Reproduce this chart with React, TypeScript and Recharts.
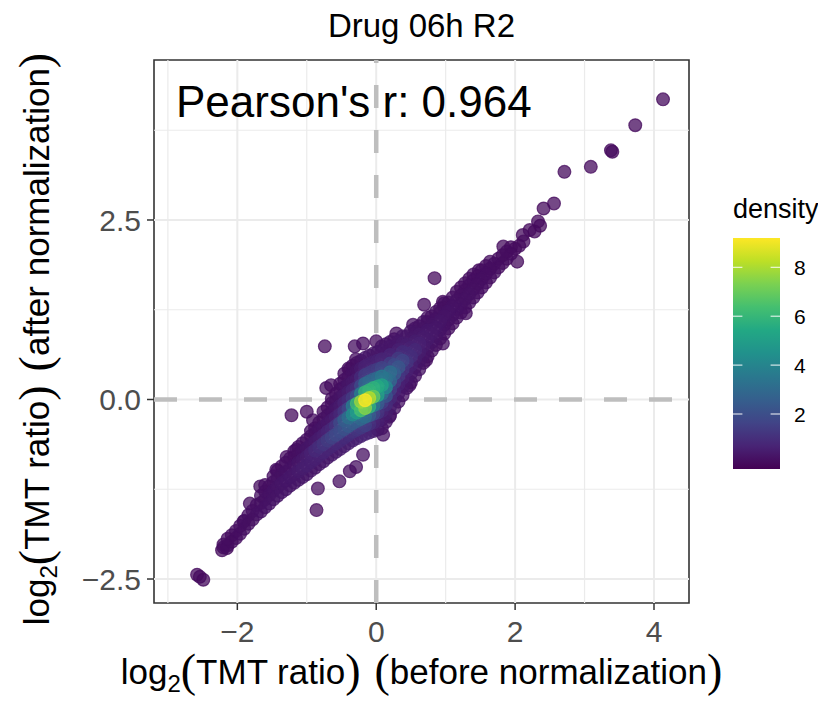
import React from "react";
import {
  ScatterChart,
  Scatter,
  XAxis,
  YAxis,
  ReferenceLine,
  ReferenceArea,
} from "recharts";

const FONT = "'Liberation Sans', Arial, Helvetica, sans-serif";
const PAREN_FONT = "'Liberation Serif', 'Times New Roman', serif";

// axes (log2 TMT ratio)
const xDomain = [-3.2, 4.504];
const yDomain = [-2.834, 4.728];
const xTicks = [-2, 0, 2, 4];
const yTicks = [-2.5, 0, 2.5];
const xMinor = [-3, -1, 1, 3];
const yMinor = [-1.25, 1.25, 3.75];

// colour bar
const densityTicks = [2, 4, 6, 8];
const densityLimits = [-0.25, 9.2];
const viridisStops = [
  "#440154", "#482475", "#414487", "#355f8d", "#2a788e", "#21918c",
  "#22a884", "#44bf70", "#7ad151", "#bddf26", "#fde725",
];

// [before normalization, after normalization, density]
const lowerTail = [
  [-2.2, -2.06, 0.08], [-2.2, -2.02, 0.07],
  [-2.08, -1.98, 0.09], [-2.08, -1.89, 0.09],
  [-1.96, -1.87, 0.11], [-1.96, -1.76, 0.11],
  [-1.84, -1.73, 0.15], [-1.84, -1.61, 0.12],
  [-1.72, -1.6, 0.18], [-1.72, -1.47, 0.13],
  [-1.6, -1.5, 0.21], [-1.6, -1.39, 0.19], [-1.6, -1.28, 0.13],
  [-1.48, -1.39, 0.25], [-1.48, -1.27, 0.23], [-1.48, -1.15, 0.15], [-1.48, -1.07, 0.11],
  [-1.36, -1.29, 0.28], [-1.36, -1.17, 0.28], [-1.36, -1.05, 0.18], [-1.36, -0.93, 0.11],
];

const lowerTailFill = [
  [-2.14, -2.03, 0.08], [-2.14, -1.94, 0.09],
  [-2.02, -1.93, 0.1], [-2.02, -1.83, 0.1],
  [-1.9, -1.8, 0.13], [-1.9, -1.69, 0.12],
  [-1.78, -1.67, 0.16], [-1.78, -1.55, 0.13],
  [-1.66, -1.56, 0.2], [-1.66, -1.44, 0.16], [-1.66, -1.34, 0.12],
  [-1.54, -1.45, 0.23], [-1.54, -1.33, 0.21], [-1.54, -1.21, 0.14],
  [-1.42, -1.34, 0.27], [-1.42, -1.22, 0.26], [-1.42, -1.1, 0.17], [-1.42, -0.99, 0.11],
  [-1.3, -1.25, 0.29], [-1.3, -1.13, 0.31], [-1.3, -1.01, 0.2], [-1.3, -0.88, 0.12],
];

const lowerBody = [
  [-1.24, -1.2, 0.25], [-1.24, -1.08, 0.34], [-1.24, -0.96, 0.2], [-1.24, -0.82, 0.1],
  [-1.12, -1.12, 0.28], [-1.12, -1.0, 0.45], [-1.12, -0.88, 0.28], [-1.12, -0.76, 0.15], [-1.12, -0.66, 0.1],
  [-1.0, -1.04, 0.28], [-1.0, -0.92, 0.55], [-1.0, -0.8, 0.5], [-1.0, -0.68, 0.28], [-1.0, -0.56, 0.15],
  [-0.88, -0.95, 0.3], [-0.88, -0.83, 0.6], [-0.88, -0.71, 0.85], [-0.88, -0.59, 0.4], [-0.88, -0.47, 0.18], [-0.88, -0.4, 0.12],
  [-0.76, -0.86, 0.32], [-0.76, -0.74, 0.7], [-0.76, -0.62, 1.2], [-0.76, -0.5, 0.6], [-0.76, -0.38, 0.3], [-0.76, -0.27, 0.16], [-0.76, -0.17, 0.1],
  [-0.64, -0.77, 0.38], [-0.64, -0.65, 0.75], [-0.64, -0.53, 1.6], [-0.64, -0.41, 0.85], [-0.64, -0.29, 0.4], [-0.64, -0.17, 0.2], [-0.64, -0.05, 0.12], [-0.64, 0.01, 0.08],
];

const lowerBodyFill = [
  [-1.18, -1.16, 0.27], [-1.18, -1.04, 0.38], [-1.18, -0.92, 0.22], [-1.18, -0.8, 0.12], [-1.18, -0.72, 0.09],
  [-1.06, -1.08, 0.28], [-1.06, -0.96, 0.5], [-1.06, -0.84, 0.38], [-1.06, -0.72, 0.2], [-1.06, -0.61, 0.12],
  [-0.94, -0.99, 0.3], [-0.94, -0.87, 0.55], [-0.94, -0.75, 0.65], [-0.94, -0.63, 0.32], [-0.94, -0.51, 0.16], [-0.94, -0.44, 0.12],
  [-0.82, -0.9, 0.32], [-0.82, -0.78, 0.65], [-0.82, -0.66, 1.0], [-0.82, -0.54, 0.48], [-0.82, -0.42, 0.24], [-0.82, -0.32, 0.14],
  [-0.7, -0.81, 0.36], [-0.7, -0.69, 0.72], [-0.7, -0.57, 1.4], [-0.7, -0.45, 0.7], [-0.7, -0.33, 0.35], [-0.7, -0.22, 0.18], [-0.7, -0.11, 0.1],
  [-0.58, -0.73, 0.42], [-0.58, -0.61, 0.85], [-0.58, -0.49, 1.8], [-0.58, -0.37, 1.2], [-0.58, -0.25, 0.6], [-0.58, -0.13, 0.32], [-0.58, -0.02, 0.18], [-0.58, 0.08, 0.1],
];

const core = [
  [-0.52, -0.69, 0.45], [-0.52, -0.57, 0.85], [-0.52, -0.45, 1.9], [-0.52, -0.33, 1.8], [-0.52, -0.21, 0.8], [-0.52, -0.09, 0.45], [-0.52, 0.03, 0.25], [-0.52, 0.14, 0.14], [-0.52, 0.22, 0.08],
  [-0.4, -0.61, 0.5], [-0.4, -0.49, 1.0], [-0.4, -0.37, 2.4], [-0.4, -0.25, 3.2], [-0.4, -0.13, 1.8], [-0.4, -0.01, 0.9], [-0.4, 0.1, 0.5], [-0.4, 0.21, 0.28], [-0.4, 0.32, 0.16], [-0.4, 0.43, 0.1],
  [-0.28, -0.54, 0.6], [-0.28, -0.42, 1.2], [-0.28, -0.3, 2.6], [-0.28, -0.18, 5.0], [-0.28, -0.06, 6.2], [-0.28, 0.05, 2.0], [-0.28, 0.16, 0.95], [-0.28, 0.28, 0.45], [-0.28, 0.4, 0.25], [-0.28, 0.51, 0.14],
  [-0.16, -0.48, 0.7], [-0.16, -0.36, 1.5], [-0.16, -0.24, 3.2], [-0.16, -0.12, 7.5], [-0.16, -0.01, 9.2], [-0.16, 0.1, 6.0], [-0.16, 0.22, 3.0], [-0.16, 0.34, 1.4], [-0.16, 0.46, 0.65], [-0.16, 0.58, 0.32],
  [-0.04, -0.44, 0.4], [-0.04, -0.32, 0.75], [-0.04, -0.2, 1.8], [-0.04, -0.08, 3.6], [-0.04, 0.04, 7.0], [-0.04, 0.16, 5.8], [-0.04, 0.28, 2.8], [-0.04, 0.4, 1.3], [-0.04, 0.52, 0.6], [-0.04, 0.64, 0.28],
  [0.08, -0.4, 0.16], [0.08, -0.28, 0.35], [0.08, -0.16, 0.75], [0.08, -0.04, 1.5], [0.08, 0.08, 3.2], [0.08, 0.2, 5.2], [0.08, 0.32, 3.5], [0.08, 0.44, 1.7], [0.08, 0.56, 0.75], [0.08, 0.68, 0.35], [0.08, 0.74, 0.25],
  [0.2, -0.22, 0.22], [0.2, -0.1, 0.45], [0.2, 0.02, 0.85], [0.2, 0.14, 1.5], [0.2, 0.26, 3.0], [0.2, 0.38, 3.1], [0.2, 0.5, 1.5], [0.2, 0.62, 0.7], [0.2, 0.74, 0.35], [0.2, 0.8, 0.25],
  [0.32, -0.03, 0.2], [0.32, 0.09, 0.35], [0.32, 0.21, 0.65], [0.32, 0.33, 1.3], [0.32, 0.45, 2.3], [0.32, 0.57, 1.4], [0.32, 0.69, 0.6], [0.32, 0.81, 0.35],
];

const coreFill = [
  [-0.46, -0.65, 0.48], [-0.46, -0.53, 0.9], [-0.46, -0.41, 2.1], [-0.46, -0.29, 2.5], [-0.46, -0.17, 1.3], [-0.46, -0.05, 0.7], [-0.46, 0.06, 0.38], [-0.46, 0.17, 0.2], [-0.46, 0.27, 0.12], [-0.46, 0.36, 0.08],
  [-0.34, -0.57, 0.55], [-0.34, -0.45, 1.1], [-0.34, -0.33, 2.5], [-0.34, -0.21, 4.3], [-0.34, -0.09, 3.8], [-0.34, 0.02, 1.4], [-0.34, 0.13, 0.75], [-0.34, 0.24, 0.38], [-0.34, 0.36, 0.2], [-0.34, 0.47, 0.12],
  [-0.22, -0.51, 0.65], [-0.22, -0.39, 1.35], [-0.22, -0.27, 3.0], [-0.22, -0.15, 6.4], [-0.22, -0.03, 7.8], [-0.22, 0.08, 3.8], [-0.22, 0.19, 1.9], [-0.22, 0.31, 0.9], [-0.22, 0.43, 0.45], [-0.22, 0.54, 0.22],
  [-0.1, -0.46, 0.55], [-0.1, -0.34, 1.1], [-0.1, -0.22, 2.5], [-0.1, -0.1, 5.8], [-0.1, 0.02, 8.2], [-0.1, 0.13, 5.9], [-0.1, 0.25, 2.9], [-0.1, 0.37, 1.3], [-0.1, 0.49, 0.6], [-0.1, 0.61, 0.3],
  [0.02, -0.42, 0.28], [0.02, -0.3, 0.55], [0.02, -0.18, 1.2], [0.02, -0.06, 2.6], [0.02, 0.06, 5.2], [0.02, 0.18, 5.5], [0.02, 0.3, 3.0], [0.02, 0.42, 1.4], [0.02, 0.54, 0.65], [0.02, 0.66, 0.3],
  [0.14, -0.31, 0.25], [0.14, -0.19, 0.5], [0.14, -0.07, 1.0], [0.14, 0.05, 2.2], [0.14, 0.17, 4.2], [0.14, 0.29, 3.3], [0.14, 0.41, 1.6], [0.14, 0.53, 0.7], [0.14, 0.65, 0.35], [0.14, 0.77, 0.25],
  [0.26, -0.12, 0.2], [0.26, 0.0, 0.4], [0.26, 0.12, 0.7], [0.26, 0.24, 1.4], [0.26, 0.36, 2.6], [0.26, 0.48, 1.8], [0.26, 0.6, 0.65], [0.26, 0.72, 0.35], [0.26, 0.84, 0.22],
  [0.38, 0.06, 0.2], [0.38, 0.18, 0.35], [0.38, 0.3, 0.6], [0.38, 0.42, 1.2], [0.38, 0.54, 1.7], [0.38, 0.66, 0.9], [0.38, 0.78, 0.45], [0.38, 0.88, 0.28],
];

const upperBody = [
  [0.44, 0.16, 0.2], [0.44, 0.28, 0.35], [0.44, 0.4, 0.6], [0.44, 0.52, 1.2], [0.44, 0.64, 0.9], [0.44, 0.76, 0.5], [0.44, 0.88, 0.28],
  [0.56, 0.33, 0.18], [0.56, 0.45, 0.3], [0.56, 0.57, 0.5], [0.56, 0.69, 0.8], [0.56, 0.81, 0.5], [0.56, 0.93, 0.28], [0.56, 0.99, 0.2],
  [0.68, 0.51, 0.16], [0.68, 0.63, 0.28], [0.68, 0.75, 0.45], [0.68, 0.87, 0.45], [0.68, 0.99, 0.26], [0.68, 1.08, 0.18],
  [0.8, 0.68, 0.15], [0.8, 0.8, 0.25], [0.8, 0.92, 0.38], [0.8, 1.04, 0.26], [0.8, 1.16, 0.15],
  [0.92, 0.85, 0.14], [0.92, 0.97, 0.24], [0.92, 1.09, 0.3], [0.92, 1.21, 0.18], [0.92, 1.27, 0.13],
  [1.04, 0.99, 0.13], [1.04, 1.11, 0.22], [1.04, 1.23, 0.24], [1.04, 1.35, 0.15],
  [1.16, 1.14, 0.12], [1.16, 1.26, 0.2], [1.16, 1.38, 0.18], [1.16, 1.5, 0.1],
  [1.28, 1.28, 0.12], [1.28, 1.4, 0.18], [1.28, 1.52, 0.14], [1.28, 1.62, 0.09],
];

const upperBodyFill = [
  [0.5, 0.24, 0.18], [0.5, 0.36, 0.32], [0.5, 0.48, 0.6], [0.5, 0.6, 1.0], [0.5, 0.72, 0.65], [0.5, 0.84, 0.38], [0.5, 0.95, 0.24],
  [0.62, 0.42, 0.17], [0.62, 0.54, 0.28], [0.62, 0.66, 0.5], [0.62, 0.78, 0.6], [0.62, 0.9, 0.36], [0.62, 1.02, 0.22],
  [0.74, 0.6, 0.16], [0.74, 0.72, 0.26], [0.74, 0.84, 0.4], [0.74, 0.96, 0.34], [0.74, 1.08, 0.2], [0.74, 1.14, 0.15],
  [0.86, 0.76, 0.15], [0.86, 0.88, 0.25], [0.86, 1.0, 0.32], [0.86, 1.12, 0.22], [0.86, 1.22, 0.15],
  [0.98, 0.92, 0.14], [0.98, 1.04, 0.22], [0.98, 1.16, 0.25], [0.98, 1.28, 0.16], [0.98, 1.34, 0.12],
  [1.1, 1.06, 0.13], [1.1, 1.18, 0.2], [1.1, 1.3, 0.2], [1.1, 1.42, 0.13],
  [1.22, 1.21, 0.12], [1.22, 1.33, 0.19], [1.22, 1.45, 0.15], [1.22, 1.56, 0.1],
  [1.34, 1.35, 0.12], [1.34, 1.47, 0.17], [1.34, 1.59, 0.12], [1.34, 1.68, 0.08],
];

const upperTail = [
  [1.4, 1.42, 0.12], [1.4, 1.54, 0.16], [1.4, 1.66, 0.11], [1.4, 1.74, 0.08],
  [1.46, 1.49, 0.11], [1.46, 1.61, 0.14], [1.46, 1.72, 0.09],
  [1.52, 1.56, 0.11], [1.52, 1.68, 0.13], [1.52, 1.8, 0.08],
  [1.58, 1.63, 0.1], [1.58, 1.75, 0.11], [1.58, 1.86, 0.07],
  [1.64, 1.7, 0.09], [1.64, 1.82, 0.1], [1.64, 1.92, 0.07],
  [1.7, 1.77, 0.08], [1.7, 1.89, 0.08],
  [1.76, 1.84, 0.08], [1.76, 1.96, 0.07],
  [1.82, 1.9, 0.07], [1.82, 2.01, 0.07],
  [1.88, 1.96, 0.06], [1.88, 2.06, 0.06],
  [1.94, 2.03, 0.06], [1.94, 2.12, 0.05],
  [2.0, 2.1, 0.05], [2.06, 2.14, 0.05],
];

const outliers = [
  [4.13, 4.18, 0.01], [3.73, 3.82, 0.01], [3.38, 3.47, 0.02], [3.4, 3.45, 0.02],
  [3.09, 3.24, 0.01], [2.71, 3.17, 0.01], [2.56, 2.73, 0.02], [2.41, 2.66, 0.02],
  [2.33, 2.48, 0.03], [2.36, 2.42, 0.03], [2.28, 2.34, 0.03], [2.21, 2.36, 0.03],
  [2.11, 2.29, 0.03], [2.03, 1.92, 0.04], [2.12, 2.2, 0.04], [1.83, 2.13, 0.05],
  [1.48, 1.8, 0.06], [0.96, 1.36, 0.05], [0.84, 1.69, 0.03], [0.69, 1.32, 0.06],
  [0.53, 1.04, 0.12], [0.29, 0.92, 0.1], [0.0, 0.81, 0.1], [-0.19, 0.78, 0.1],
  [-0.31, 0.74, 0.08], [-0.29, 0.56, 0.12], [-0.38, 0.42, 0.12], [-0.74, 0.74, 0.03],
  [-0.72, 0.16, 0.1], [-0.65, 0.2, 0.1], [-1.0, -0.17, 0.06], [-0.91, -0.29, 0.1],
  [-1.22, -0.22, 0.04], [-1.15, -0.7, 0.12], [-1.29, -0.8, 0.1], [-1.44, -0.98, 0.09],
  [-1.67, -1.21, 0.07], [-1.82, -1.45, 0.07], [-1.6, -1.19, 0.08], [-1.91, -1.7, 0.09],
  [-2.15, -2.07, 0.05], [-2.22, -2.1, 0.04], [-2.58, -2.44, 0.01], [-2.54, -2.47, 0.01],
  [-2.49, -2.51, 0.01], [-0.84, -1.24, 0.08], [-0.86, -1.54, 0.03], [-0.53, -1.14, 0.08],
  [-0.38, -1.0, 0.1], [-0.29, -0.94, 0.12], [-0.19, -0.77, 0.15], [0.1, -0.49, 0.2],
  [0.19, -0.24, 0.22], [0.48, 0.2, 0.16], [0.72, 0.55, 0.14], [0.96, 0.78, 0.12],
  [1.29, 1.2, 0.09],
];

function hexToRgb(h: string) {
  return [1, 3, 5].map((i) => parseInt(h.slice(i, i + 2), 16));
}

function viridis(d: number) {
  let t = (d - densityLimits[0]) / (densityLimits[1] - densityLimits[0]);
  t = Math.max(0, Math.min(1, t));
  const pos = t * (viridisStops.length - 1);
  const i = Math.min(Math.floor(pos), viridisStops.length - 2);
  const f = pos - i;
  const a = hexToRgb(viridisStops[i]);
  const b = hexToRgb(viridisStops[i + 1]);
  const c = a.map((v, k) => Math.round(v + (b[k] - v) * f));
  return `rgb(${c[0]},${c[1]},${c[2]})`;
}

const minus = (s: string) => s.replace("-", "\u2212");

const DensityDot = (props: any) => {
  const { cx, cy, payload } = props;
  if (cx == null || cy == null) return null;
  const col = viridis(payload.density);
  return (
    <circle
      cx={cx}
      cy={cy}
      r={6.4}
      fill={col}
      fillOpacity={0.75}
      stroke={col}
      strokeOpacity={0.75}
      strokeWidth={1.2}
    />
  );
};

const AxisTitle = ({ tail }: { tail: string }) => (
  <>
    log
    <tspan fontSize={24} dy={8}>2</tspan>
    <tspan fontSize={46} dy={-6} fontFamily={PAREN_FONT}>(</tspan>
    <tspan dy={-2}>TMT ratio</tspan>
    <tspan fontSize={46} dy={2} fontFamily={PAREN_FONT}>)</tspan>
    <tspan dx={14} fontSize={46} fontFamily={PAREN_FONT}>(</tspan>
    <tspan dy={-2}>{tail}</tspan>
    <tspan fontSize={46} dy={2} fontFamily={PAREN_FONT}>)</tspan>
  </>
);

export default function App() {
  const points = [
    ...lowerTail, ...lowerTailFill, ...lowerBody, ...lowerBodyFill,
    ...core, ...coreFill, ...upperBody, ...upperBodyFill, ...upperTail, ...outliers,
  ]
    .map(([x, y, density]) => ({ x, y, density }))
    .sort((a, b) => a.density - b.density);

  const barTop = 230;
  const barH = 231;
  const barY = (d: number) =>
    barTop + barH - ((d - densityLimits[0]) / (densityLimits[1] - densityLimits[0])) * barH;

  return (
    <div style={{ position: "relative", width: 818, height: 693, fontFamily: FONT }}>
      <ScatterChart
        width={818}
        height={693}
        margin={{ top: 52, right: 137, bottom: 58, left: 86 }}
      >
        <XAxis
          type="number"
          dataKey="x"
          domain={xDomain}
          ticks={xTicks}
          interval={0}
          allowDataOverflow
          height={40}
          axisLine={false}
          tickSize={7}
          tickMargin={11}
          tickLine={{ stroke: "#333333", strokeWidth: 1.5 }}
          tick={{ fill: "#4D4D4D", fontSize: 30, fontFamily: FONT }}
          tickFormatter={(v: number) => minus(String(v))}
        />
        <YAxis
          type="number"
          dataKey="y"
          domain={yDomain}
          ticks={yTicks}
          interval={0}
          allowDataOverflow
          width={60}
          axisLine={false}
          tickSize={7}
          tickMargin={6}
          tickLine={{ stroke: "#333333", strokeWidth: 1.5 }}
          tick={{ fill: "#4D4D4D", fontSize: 30, fontFamily: FONT }}
          tickFormatter={(v: number) => minus(v.toFixed(1))}
        />
        {xMinor.map((v) => (
          <ReferenceLine key={"xm" + v} x={v} stroke="#EBEBEB" strokeWidth={1.2} />
        ))}
        {yMinor.map((v) => (
          <ReferenceLine key={"ym" + v} y={v} stroke="#EBEBEB" strokeWidth={1.2} />
        ))}
        {xTicks.map((v) => (
          <ReferenceLine key={"xM" + v} x={v} stroke="#EBEBEB" strokeWidth={2} />
        ))}
        {yTicks.map((v) => (
          <ReferenceLine key={"yM" + v} y={v} stroke="#EBEBEB" strokeWidth={2} />
        ))}
        <ReferenceLine x={0} stroke="#BEBEBE" strokeWidth={4.5} strokeDasharray="23 22" />
        <ReferenceLine y={0} stroke="#BEBEBE" strokeWidth={4.5} strokeDasharray="23 22" />
        <ReferenceArea
          x1={xDomain[0]}
          x2={xDomain[1]}
          y1={yDomain[0]}
          y2={yDomain[1]}
          fill="none"
          fillOpacity={0}
          stroke="#333333"
          strokeWidth={1.6}
        />
        <Scatter data={points} isAnimationActive={false} shape={DensityDot} />
      </ScatterChart>

      <svg
        width={818}
        height={693}
        style={{ position: "absolute", left: 0, top: 0, pointerEvents: "none" }}
        fontFamily={FONT}
      >
        <text x={413.5} y={29} textAnchor="middle" fontSize={33} fill="#000">
          Drug 06h R2
        </text>
        <text x={168} y={109} fontSize={44} fill="#000">
          Pearson's r: 0.964
        </text>

        <text x={413.5} y={676} textAnchor="middle" fontSize={35} fill="#000">
          <AxisTitle tail="before normalization" />
        </text>

        <text
          transform="translate(41,331) rotate(-90)"
          textAnchor="middle"
          fontSize={35}
          fill="#000"
        >
          <AxisTitle tail="after normalization" />
        </text>

        <defs>
          <linearGradient id="viridisBar" x1="0" y1="1" x2="0" y2="0">
            {viridisStops.map((c, i) => (
              <stop key={c} offset={i / (viridisStops.length - 1)} stopColor={c} />
            ))}
          </linearGradient>
        </defs>
        <text x={725} y={210} fontSize={27} fill="#000">
          density
        </text>
        <rect x={725} y={barTop} width={47} height={barH} fill="url(#viridisBar)" />
        {densityTicks.map((d) => (
          <g key={d}>
            <line x1={725} x2={734.4} y1={barY(d)} y2={barY(d)} stroke="#fff" strokeOpacity={0.8} strokeWidth={1.2} />
            <line x1={762.6} x2={772} y1={barY(d)} y2={barY(d)} stroke="#fff" strokeOpacity={0.8} strokeWidth={1.2} />
            <text x={786} y={barY(d)} dy="0.36em" fontSize={21} fill="#000">
              {d}
            </text>
          </g>
        ))}
      </svg>
    </div>
  );
}
